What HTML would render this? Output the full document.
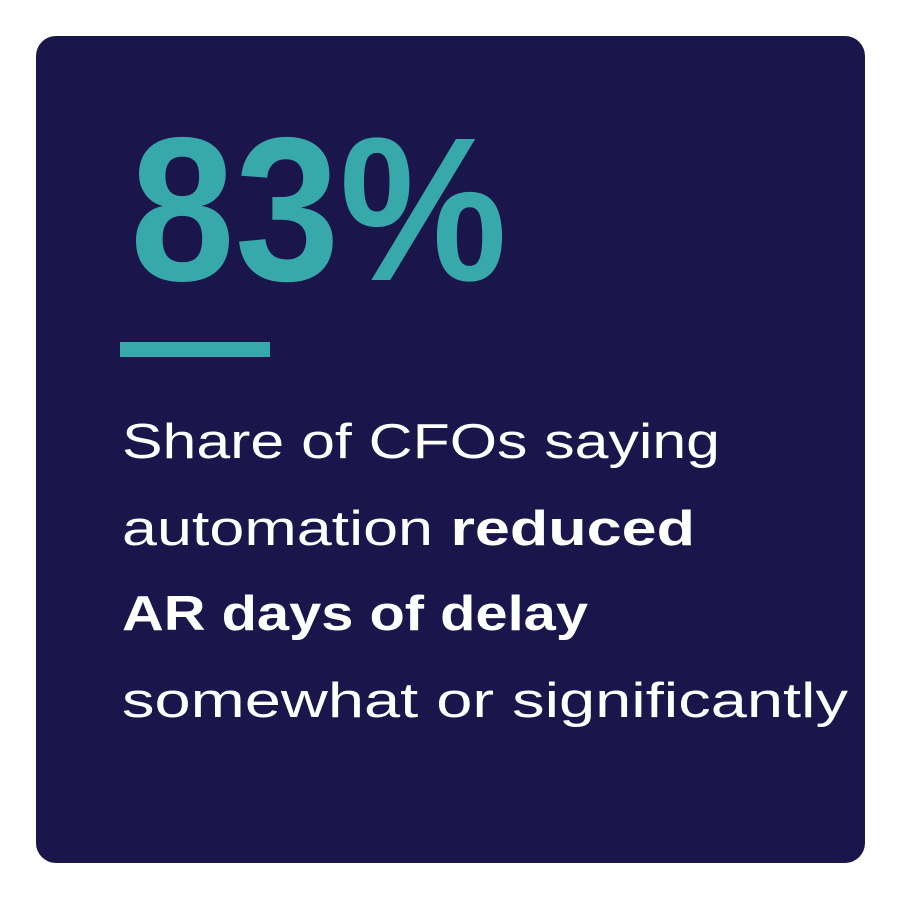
<!DOCTYPE html>
<html><head><style>
html,body{margin:0;padding:0;background:#fff;width:900px;height:900px;overflow:hidden}
</style></head><body>
<svg width="900" height="900" xmlns="http://www.w3.org/2000/svg">
<rect x="36" y="36" width="829" height="827" rx="20" ry="20" fill="#1a154a"/>
<text x="130" y="280" font-family="Liberation Sans, sans-serif" font-weight="bold" font-size="205" fill="#37a9ab" textLength="377" lengthAdjust="spacingAndGlyphs">83%</text>
<rect x="120" y="342" width="150" height="15" fill="#37a9ab"/>
<g font-family="Liberation Sans, sans-serif" font-size="49" fill="#ffffff">
<text x="122" y="458" textLength="598" lengthAdjust="spacingAndGlyphs">Share of CFOs saying</text>
<text x="122" y="545" textLength="573" lengthAdjust="spacingAndGlyphs">automation <tspan font-weight="bold">reduced</tspan></text>
<text x="122" y="630" font-weight="bold" textLength="466" lengthAdjust="spacingAndGlyphs">AR days of delay</text>
<text x="122" y="717" textLength="726" lengthAdjust="spacingAndGlyphs">somewhat or significantly</text>
</g>
</svg>
</body></html>
